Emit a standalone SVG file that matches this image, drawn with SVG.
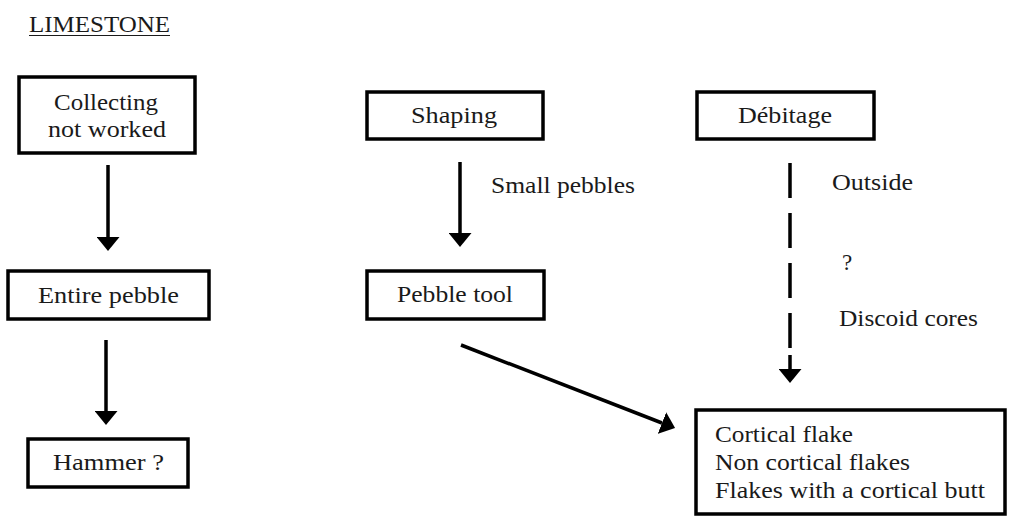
<svg xmlns="http://www.w3.org/2000/svg" width="1009" height="528" viewBox="0 0 1009 528">
<style>
  .box { fill: #fff; stroke: #000; stroke-width: 3.5; }
  text { font-family: 'Liberation Serif', 'DejaVu Serif', serif; font-size: 23px; fill: #1a1a1a; }
  .c { stroke: #000; stroke-width: 3.5; fill: none; }
</style>
<defs>
  <marker id="ah" viewBox="0 0 14 23" refX="0" refY="11.5" markerWidth="14" markerHeight="23" markerUnits="userSpaceOnUse" orient="auto">
    <path d="M0,0 L14,11.5 L0,23 Z" fill="#000"/>
  </marker>
</defs>
<rect width="1009" height="528" fill="#fff"/>
<g id="title">
  <text font-family="Liberation Serif, DejaVu Serif, serif" x="29" y="32" textLength="141" lengthAdjust="spacingAndGlyphs">LIMESTONE</text>
  <line x1="29" y1="35.5" x2="170" y2="35.5" stroke="#1a1a1a" stroke-width="1.2"/>
</g>
<g id="connectors">
  <line class="c" x1="108" y1="165" x2="108" y2="237" marker-end="url(#ah)"/>
  <line class="c" x1="106" y1="340" x2="106" y2="411" marker-end="url(#ah)"/>
  <line class="c" x1="460" y1="162" x2="460" y2="233" marker-end="url(#ah)"/>
  <line class="c" x1="790" y1="163" x2="790" y2="349" stroke-dasharray="35 15"/>
  <line class="c" x1="790" y1="355" x2="790" y2="369" stroke-width="0" marker-end="url(#ah)"/>
  <line class="c" x1="461" y1="345" x2="662" y2="423" marker-end="url(#ah)"/>
</g>
<g id="node-collecting" font-family="Liberation Serif, DejaVu Serif, serif">
  <rect class="box" x="19" y="77" width="176" height="76"/>
  <text x="54" y="110" textLength="104" lengthAdjust="spacingAndGlyphs">Collecting</text>
  <text x="48" y="137" textLength="118" lengthAdjust="spacingAndGlyphs">not worked</text>
</g>
<g id="node-entire">
  <rect class="box" x="8" y="271" width="201" height="48"/>
  <text x="38" y="303" textLength="141" lengthAdjust="spacingAndGlyphs">Entire pebble</text>
</g>
<g id="node-hammer">
  <rect class="box" x="28" y="439" width="160" height="48"/>
  <text x="53" y="470" textLength="111" lengthAdjust="spacingAndGlyphs">Hammer ?</text>
</g>
<g id="node-shaping">
  <rect class="box" x="367" y="92" width="176" height="47"/>
  <text x="411" y="123" textLength="86" lengthAdjust="spacingAndGlyphs">Shaping</text>
</g>
<g id="label-small">
  <text x="491" y="193" textLength="144" lengthAdjust="spacingAndGlyphs">Small pebbles</text>
</g>
<g id="node-pebbletool">
  <rect class="box" x="367" y="271" width="177" height="48"/>
  <text x="397" y="302" textLength="116" lengthAdjust="spacingAndGlyphs">Pebble tool</text>
</g>
<g id="node-debitage">
  <rect class="box" x="697" y="92" width="177" height="47"/>
  <text x="738" y="123" textLength="94" lengthAdjust="spacingAndGlyphs">Débitage</text>
</g>
<g id="labels-debitage">
  <text x="832" y="190" textLength="81" lengthAdjust="spacingAndGlyphs">Outside</text>
  <text x="842" y="270">?</text>
  <text x="839" y="326" textLength="139" lengthAdjust="spacingAndGlyphs">Discoid cores</text>
</g>
<g id="node-flakes">
  <rect class="box" x="696" y="410" width="309" height="104"/>
  <text x="715" y="442" textLength="138" lengthAdjust="spacingAndGlyphs">Cortical flake</text>
  <text x="715" y="470" textLength="195" lengthAdjust="spacingAndGlyphs">Non cortical flakes</text>
  <text x="715" y="498" textLength="270" lengthAdjust="spacingAndGlyphs">Flakes with a cortical butt</text>
</g>
</svg>
